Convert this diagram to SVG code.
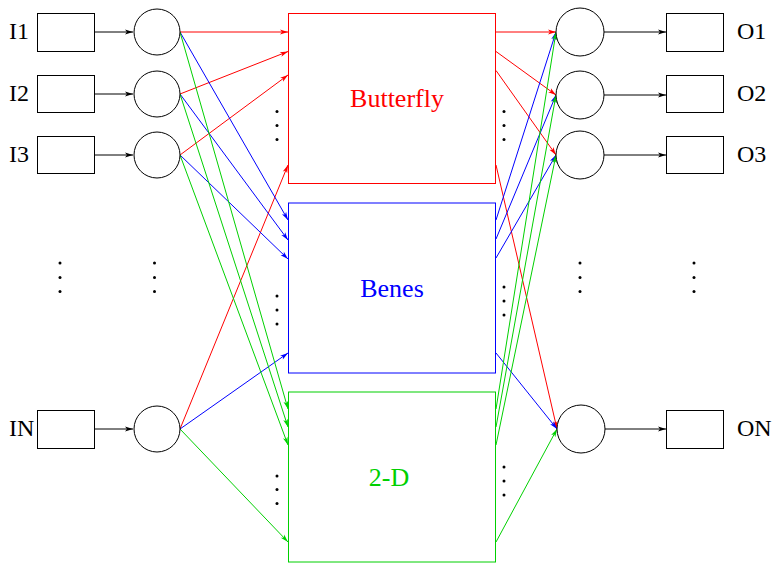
<svg xmlns="http://www.w3.org/2000/svg" width="776" height="563" viewBox="0 0 776 563">
<style>
.box{fill:#fff;stroke:#000;stroke-width:1}
.circ{fill:#fff;stroke:#000;stroke-width:1}
.lbl{font-family:"Liberation Serif",serif;font-size:24px;fill:#000}
.big{font-family:"Liberation Serif",serif;font-size:26px;text-anchor:middle}
.k{stroke:#000;stroke-width:1;fill:none;marker-end:url(#ak)}
.r{stroke:#ff0000;stroke-width:1;fill:none;marker-end:url(#ar)}
.b{stroke:#0000ff;stroke-width:1;fill:none;marker-end:url(#ab)}
.g{stroke:#00d000;stroke-width:1;fill:none;marker-end:url(#ag)}
.dot{fill:#000}
</style>
<defs>
<marker id="ak" markerUnits="userSpaceOnUse" markerWidth="10" markerHeight="8" refX="9" refY="4" orient="auto"><path d="M1,1.6 L9,4 L1,6.4 L3,4 z" fill="#000"/></marker>
<marker id="ar" markerUnits="userSpaceOnUse" markerWidth="10" markerHeight="8" refX="9" refY="4" orient="auto"><path d="M1,1.6 L9,4 L1,6.4 L3,4 z" fill="#ff0000"/></marker>
<marker id="ab" markerUnits="userSpaceOnUse" markerWidth="10" markerHeight="8" refX="9" refY="4" orient="auto"><path d="M1,1.6 L9,4 L1,6.4 L3,4 z" fill="#0000ff"/></marker>
<marker id="ag" markerUnits="userSpaceOnUse" markerWidth="10" markerHeight="8" refX="9" refY="4" orient="auto"><path d="M1,1.6 L9,4 L1,6.4 L3,4 z" fill="#00d000"/></marker>
</defs>
<rect width="776" height="563" fill="#fff"/>

<g id="connectors">
<line class="k" x1="95" y1="32" x2="133" y2="32"/>
<line class="k" x1="95" y1="94" x2="133" y2="94"/>
<line class="k" x1="95" y1="155" x2="133" y2="155"/>
<line class="k" x1="95" y1="429" x2="133" y2="429"/>
<line class="k" x1="604" y1="32" x2="666" y2="32"/>
<line class="k" x1="604" y1="95" x2="666" y2="95"/>
<line class="k" x1="604" y1="155" x2="666" y2="155"/>
<line class="k" x1="605" y1="429" x2="666" y2="429"/>

<line class="r" x1="180" y1="32" x2="288" y2="32"/>
<line class="r" x1="180" y1="94" x2="288" y2="51.5"/>
<line class="r" x1="180" y1="155" x2="288" y2="75"/>
<line class="r" x1="180" y1="429" x2="288" y2="165"/>
<line class="b" x1="180" y1="32" x2="288" y2="220"/>
<line class="b" x1="180" y1="94" x2="288" y2="240"/>
<line class="b" x1="180" y1="155" x2="288" y2="259"/>
<line class="b" x1="180" y1="429" x2="288" y2="353"/>
<line class="g" x1="180" y1="32" x2="288" y2="409"/>
<line class="g" x1="180" y1="94" x2="288" y2="427"/>
<line class="g" x1="180" y1="155" x2="288" y2="445"/>
<line class="g" x1="180" y1="429" x2="288" y2="542"/>

<line class="r" x1="496" y1="32" x2="556" y2="32"/>
<line class="r" x1="496" y1="51.5" x2="556" y2="95"/>
<line class="r" x1="496" y1="70.5" x2="556" y2="155"/>
<line class="r" x1="496" y1="165" x2="557" y2="429"/>
<line class="b" x1="496" y1="220" x2="556" y2="32"/>
<line class="b" x1="496" y1="239" x2="556" y2="95"/>
<line class="b" x1="496" y1="258" x2="556" y2="155"/>
<line class="b" x1="496" y1="353" x2="557" y2="429"/>
<line class="g" x1="496" y1="409" x2="556" y2="32"/>
<line class="g" x1="496" y1="427" x2="556" y2="95"/>
<line class="g" x1="496" y1="445" x2="556" y2="155"/>
<line class="g" x1="496" y1="542" x2="557" y2="429"/>
</g>

<g id="I1"><rect class="box" x="37.5" y="13.5" width="57" height="38"/><text class="lbl" x="9" y="38.5">I1</text></g>
<g id="I2"><rect class="box" x="37.5" y="75.5" width="57" height="37"/><text class="lbl" x="9" y="100.5">I2</text></g>
<g id="I3"><rect class="box" x="37.5" y="136.5" width="57" height="37"/><text class="lbl" x="9" y="161.5">I3</text></g>
<g id="IN"><rect class="box" x="37.5" y="410.5" width="57" height="38"/><text class="lbl" x="9" y="435.5">IN</text></g>

<g id="c1"><circle class="circ" cx="157" cy="32" r="23"/></g>
<g id="c2"><circle class="circ" cx="157" cy="94" r="23"/></g>
<g id="c3"><circle class="circ" cx="157" cy="155" r="23"/></g>
<g id="cN"><circle class="circ" cx="157" cy="429" r="23"/></g>

<g id="butterfly"><rect x="288.5" y="13.5" width="207" height="170" fill="#fff" stroke="#ff0000"/><text class="big" x="397" y="107" fill="#ff0000">Butterfly</text></g>
<g id="benes"><rect x="288.5" y="203" width="207" height="170" fill="#fff" stroke="#0000ff"/><text class="big" x="392" y="297" fill="#0000ff">Benes</text></g>
<g id="twod"><rect x="288.5" y="392" width="207" height="170" fill="#fff" stroke="#00d000"/><text class="big" x="389" y="486" fill="#00d000">2-D</text></g>

<g id="o1"><circle class="circ" cx="580" cy="32" r="24"/></g>
<g id="o2"><circle class="circ" cx="580" cy="95" r="24"/></g>
<g id="o3"><circle class="circ" cx="580" cy="155" r="24"/></g>
<g id="oN"><circle class="circ" cx="581" cy="429" r="24"/></g>

<g id="O1"><rect class="box" x="666.5" y="13.5" width="57" height="38"/><text class="lbl" x="737" y="38.5">O1</text></g>
<g id="O2"><rect class="box" x="666.5" y="75.5" width="57" height="37"/><text class="lbl" x="737" y="100.5">O2</text></g>
<g id="O3"><rect class="box" x="666.5" y="136.5" width="57" height="37"/><text class="lbl" x="737" y="161.5">O3</text></g>
<g id="ON"><rect class="box" x="666.5" y="410.5" width="57" height="38"/><text class="lbl" x="737" y="435.5">ON</text></g>

<g id="dots">
<circle class="dot" cx="60" cy="263" r="1.5"/><circle class="dot" cx="60" cy="277.5" r="1.5"/><circle class="dot" cx="60" cy="291.5" r="1.5"/>
<circle class="dot" cx="154.5" cy="263" r="1.5"/><circle class="dot" cx="154.5" cy="277.5" r="1.5"/><circle class="dot" cx="154.5" cy="291.5" r="1.5"/>
<circle class="dot" cx="580" cy="263" r="1.5"/><circle class="dot" cx="580" cy="277.5" r="1.5"/><circle class="dot" cx="580" cy="291.5" r="1.5"/>
<circle class="dot" cx="694" cy="263" r="1.5"/><circle class="dot" cx="694" cy="277.5" r="1.5"/><circle class="dot" cx="694" cy="291.5" r="1.5"/>
<circle class="dot" cx="277" cy="111.5" r="1.5"/><circle class="dot" cx="277" cy="125.5" r="1.5"/><circle class="dot" cx="277" cy="139.5" r="1.5"/>
<circle class="dot" cx="504" cy="111.5" r="1.5"/><circle class="dot" cx="504" cy="125.5" r="1.5"/><circle class="dot" cx="504" cy="139.5" r="1.5"/>
<circle class="dot" cx="277" cy="296" r="1.5"/><circle class="dot" cx="277" cy="310" r="1.5"/><circle class="dot" cx="277" cy="324" r="1.5"/>
<circle class="dot" cx="504" cy="287" r="1.5"/><circle class="dot" cx="504" cy="301" r="1.5"/><circle class="dot" cx="504" cy="315" r="1.5"/>
<circle class="dot" cx="277" cy="476" r="1.5"/><circle class="dot" cx="277" cy="489.5" r="1.5"/><circle class="dot" cx="277" cy="503.5" r="1.5"/>
<circle class="dot" cx="504" cy="467" r="1.5"/><circle class="dot" cx="504" cy="481" r="1.5"/><circle class="dot" cx="504" cy="495" r="1.5"/>
</g>
</svg>
